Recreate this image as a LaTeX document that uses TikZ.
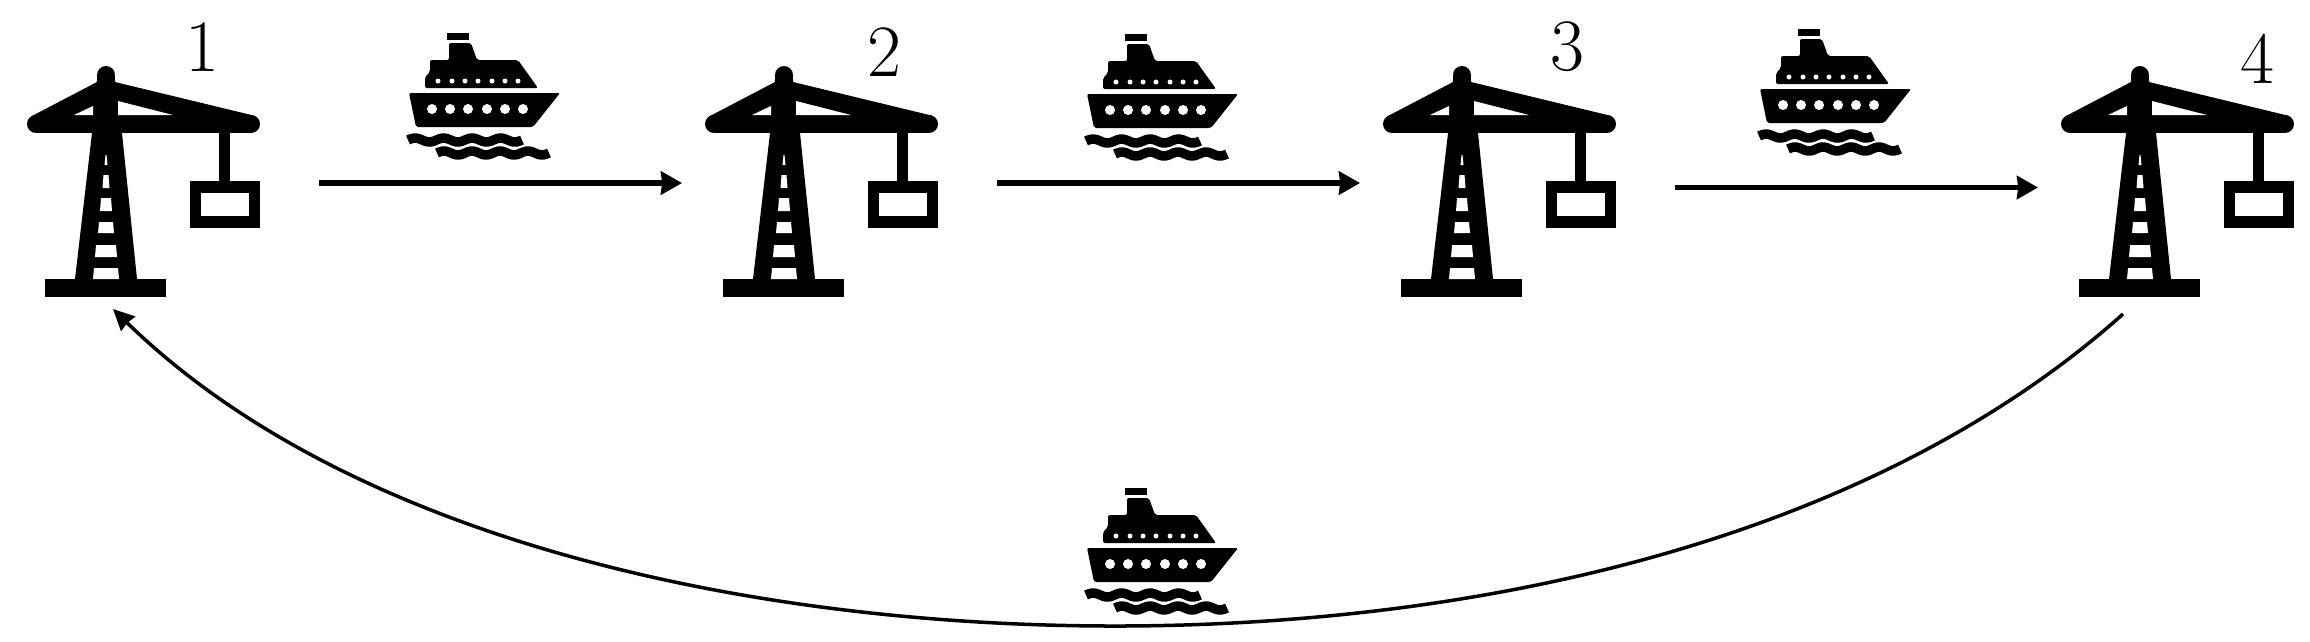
\documentclass[tikz,border=0pt]{standalone}
\usepackage{graphicx,xcolor}
\usetikzlibrary{arrows.meta}
\tikzset{
    hop/.style={-{Stealth[length=0.21cm,width=0.23cm,inset=0.012cm]},line width=0.055cm},
    backhop/.style={-{Stealth[length=0.21cm,width=0.2cm,inset=0.012cm]},line width=0.035cm},
    portnum/.style={font=\fontsize{21}{21}\selectfont,inner sep=0pt},
    pics/crane/.style={code={
        % tower, jib and base
        \fill (97,80) -- (115,80) -- (118,115) -- (122,133) -- (137,279) -- (75,279) -- (92,133) -- (93,115) -- cycle;
        \draw[line width=0.18cm,line cap=round] (106,75) -- (106,90);
        \draw[line width=0.18cm,line cap=round] (36,124) -- (251,124);
        \fill (31,116.5) -- (97,82) -- (115,82) -- (253.5,115.5) -- (253.5,124) -- (31,124) -- cycle;
        \fill (45,279) rectangle (166,297);
        \foreach \xa/\xb/\ya/\yb in {104.5/107.5/155/165,102.5/109.5/175/188,100/112/198/211,98/114/222/233,95/117/245/257,93/119/268/279}
            \fill[white] (\xa+1,\ya) -- (\xb-1,\ya) -- (\xb,\yb) -- (\xa,\yb) -- cycle;
        \fill[white] (74,115) -- (93,106) -- (93,115) -- cycle;
        \fill[white] (118,101) -- (173,115) -- (118,115) -- cycle;
        % load
        \fill (219,130) rectangle (230,182);
        \draw[line width=0.115cm] (195.5,187) rectangle (254.5,222);
        \coordinate (-out) at (319,183);
        \coordinate (-in) at (4,183);
        \coordinate (-low) at (113,309);
        \coordinate (-lowout) at (89,314);
    }},
    pics/ship/.style={code={
        \fill (447,33) rectangle (469,40);
        \fill[rounded corners=0.02cm] (449,43) -- (471,43) -- (477,60) -- (518,60) -- (538,88) -- (425,88) -- (425,77) -- (430,72) -- (430,60) -- (449,60) -- cycle;
        \fill[rounded corners=0.02cm] (409,93) -- (560,93) -- (533,127) -- (416,127) -- cycle;
        \foreach \px in {438,452,465,478,492,505,518}
            \fill[white] (\px,81) circle (2.5);
        \foreach \px in {432,450,468,487,505,523}
            \fill[white] (\px,109) circle (5);
        \draw[line width=0.095cm] plot[domain=0:4,samples=41,smooth] ({408+\x*28.5},{140-2*sin(\x*360)});
        \draw[line width=0.095cm] plot[domain=0:4,samples=41,smooth] ({437+\x*28},{153-2*sin(\x*360)});
    }}
}
\begin{document}
\begin{tikzpicture}[x=0.01cm,y=-0.01cm]
    \useasboundingbox (0,0) rectangle (2310,641);
    \pic (port1) at (0,0) {crane};
    \pic (port2) at (678,0) {crane};
    \pic (port3) at (1356,0) {crane};
    \pic (port4) at (2034,0) {crane};
    \pic (ship1) at (0,0) {ship};
    \pic (ship2) at (678,1) {ship};
    \pic (ship3) at (1351,-4) {ship};
    \pic (ship4) at (678,455) {ship};
    \node[portnum] (num1) at (202,47) {1};
    \node[portnum] (num2) at (884,52) {2};
    \node[portnum] (num3) at (1567,47) {3};
    \node[portnum] (num4) at (2257,59) {4};
    \coordinate (curvelow) at (1115,626);
    \draw[hop] (port1-out) -- (port2-in);
    \draw[hop] (port2-out) -- (port3-in);
    \draw[hop] ([yshift=-0.045cm]port3-out) -- ([yshift=-0.045cm]port4-in);
    \draw[backhop] (port4-lowout) .. controls (1870,540) and (1480,626) .. (curvelow) .. controls (750,626) and (350,540) .. (port1-low);
\end{tikzpicture}
\end{document}
